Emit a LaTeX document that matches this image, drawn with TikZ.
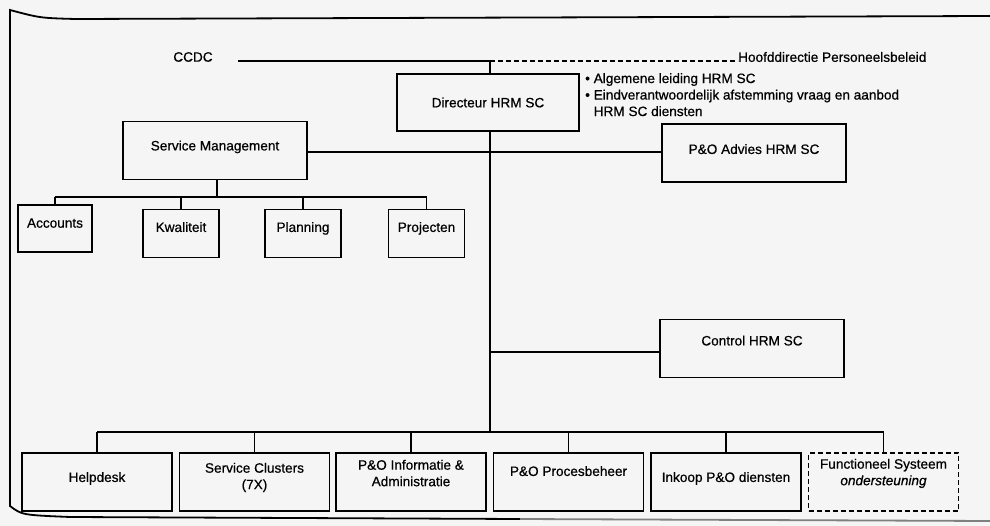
\documentclass[tikz,border=0pt]{standalone}
\usepackage{fontspec}
\setmainfont{Liberation Sans}[FakeBold=0.6]
\begin{document}
\begin{tikzpicture}[x=1pt,y=-1pt,
  txt/.style={font=\fontsize{13.6}{16.5}\selectfont},
  unit/.style={draw, line width=1.7pt, inner sep=0pt, align=center, txt},
  bigunit/.style={unit, minimum width=184pt, minimum height=58pt},
  subunit/.style={unit, minimum width=76pt, minimum height=48pt, text depth=13pt},
  dept/.style={unit, minimum width=150pt, minimum height=58pt},
  link/.style={line width=1.7pt},
  frame/.style={line width=1.8pt}]

% page area
\useasboundingbox (0,0) rectangle (990,526);
\fill[white!96!black] (0,0) rectangle (990,526);

% open frame round the chart
\draw[frame] (990,16) -- (75,19) .. controls (40,18) .. (10,10) -- (10,506)
  .. controls (22,515) .. (70,517) -- (520,519);
\draw[frame, black!50] (520,519) -- (990,521);

% top level
\node[txt] (ccdc) at (193,57) {CCDC};
\node[txt, anchor=west, inner sep=0pt] (hoofd) at (738,57) {Hoofddirectie Personeelsbeleid};
\node[unit, minimum width=182pt, minimum height=57pt] (dir) at (488,102.5) {Directeur HRM SC};
\node[txt, anchor=north west, align=left, inner sep=0pt] (taken) at (585,73)
  {\textbullet\ Algemene leiding HRM SC\\
   \textbullet\ Eindverantwoordelijk afstemming vraag en aanbod\\
   \phantom{\textbullet\ }HRM SC diensten};

\coordinate (top) at (490,61);
\draw[link] ([xshift=22pt]ccdc.east |- top) -- (top);
\draw[link, dashed, dash pattern=on 5pt off 3pt] (top) -- (hoofd.west |- top);
\draw[link] (top) -- (top |- dir.north);

% staff units
\node[bigunit, text depth=10pt] (sm) at (215,150.5) {Service Management};
\node[bigunit, text depth=8pt] (advies) at (754,153) {P\&O Advies HRM SC};
\node[bigunit, text depth=16pt] (control) at (752,348.5) {Control HRM SC};

\coordinate (bus) at (490,432);
\draw[link] (top |- dir.south) -- (bus);
\draw[link] (sm.east |- 0,152) -- (advies.west |- 0,152);
\draw[link] (top |- 0,352) -- (control.west |- 0,352);

% service management sections
\node[subunit, minimum width=74pt, minimum height=47pt, text depth=11pt] (acc) at (55,228.5) {Accounts};
\node[subunit] (kwal) at (181,233.5) {Kwaliteit};
\node[subunit] (plan) at (303,233.5) {Planning};
\node[subunit] (proj) at (426.5,233.5) {Projecten};

\coordinate (smbus) at (217,197);
\draw[link] (sm.south -| smbus) -- (smbus);
\draw[link] (acc.north |- smbus) -- (proj.north |- smbus);
\foreach \n in {acc,kwal,plan,proj}
  \draw[link] (\n.north |- smbus) -- (\n.north);

% departments
\node[dept, text depth=10pt] (help) at (97,482) {Helpdesk};
\node[dept, text depth=12pt] (clust) at (254.5,482) {Service Clusters\\(7X)};
\node[dept, text depth=18pt] (pinfo) at (411,482) {P\&O Informatie \&\\Administratie};
\node[dept, text depth=22pt] (proc) at (568.5,482) {P\&O Procesbeheer};
\node[dept, text depth=10pt] (inkoop) at (726,482) {Inkoop P\&O diensten};
\node[dept, dashed, dash pattern=on 5pt off 3pt, text depth=20pt] (func) at (883.5,482)
  {Functioneel Systeem\\\textit{ondersteuning}};

\draw[link] (help.north |- bus) -- (func.north |- bus);
\foreach \n in {help,clust,pinfo,proc,inkoop,func}
  \draw[link] (\n.north |- bus) -- (\n.north);

\end{tikzpicture}
\end{document}
